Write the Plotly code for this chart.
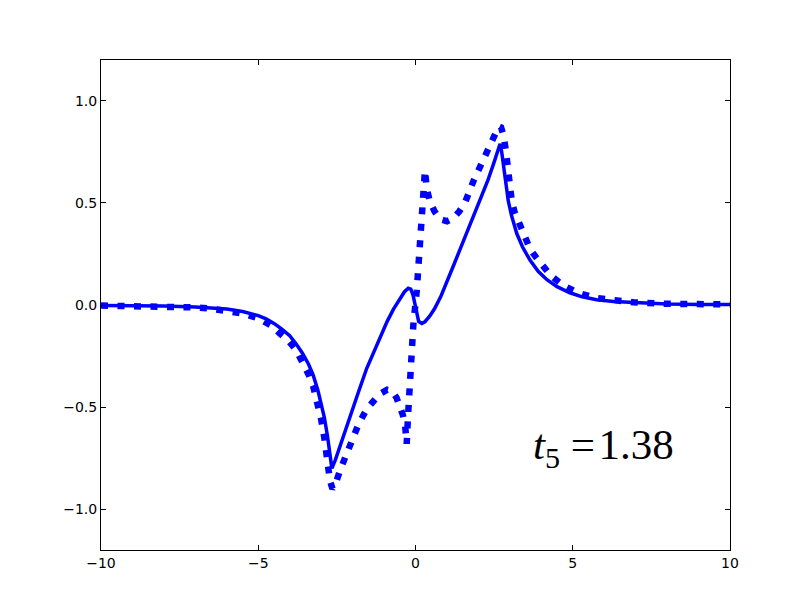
import plotly.graph_objects as go

# solid curve
x_solid = [-10.0, -9.0, -8.0, -7.0, -6.5, -6.0, -5.5, -5.0, -4.75, -4.5, -4.25, -4.0, -3.8,
           -3.6, -3.4, -3.25, -3.1, -3.0, -2.9, -2.8, -2.72, -2.66, -2.55, -2.4, -2.2,
           -2.0, -1.8, -1.55, -1.3, -1.1, -0.9, -0.7, -0.5, -0.35, -0.23, -0.15, -0.08,
           -0.02, 0.04, 0.1, 0.2, 0.3, 0.45, 0.6, 0.8, 1.0, 1.2, 1.41, 1.7, 2.05, 2.3,
           2.5, 2.62, 2.69, 2.74, 2.8, 2.87, 2.95, 3.05, 3.22, 3.4, 3.64, 3.9, 4.17, 4.5,
           4.91, 5.3, 5.76, 6.3, 6.93, 8.0, 9.0, 10.0]
y_solid = [-0.002, -0.003, -0.005, -0.01, -0.014, -0.02, -0.032, -0.052, -0.068, -0.09,
           -0.118, -0.15, -0.19, -0.235, -0.29, -0.345, -0.42, -0.48, -0.55, -0.64, -0.73,
           -0.8, -0.76, -0.69, -0.6, -0.51, -0.42, -0.31, -0.22, -0.15, -0.08, -0.02, 0.03,
           0.065, 0.082, 0.078, 0.05, 0.0, -0.05, -0.08, -0.09, -0.082, -0.055, -0.02,
           0.04, 0.11, 0.19, 0.27, 0.38, 0.51, 0.61, 0.7, 0.765, 0.79, 0.75, 0.68, 0.6,
           0.51, 0.44, 0.35, 0.285, 0.22, 0.165, 0.125, 0.09, 0.06, 0.04, 0.026, 0.017,
           0.011, 0.005, 0.003, 0.002]

# dotted curve
x_dot = [-10.0, -9.0, -8.0, -7.0, -6.5, -6.0, -5.5, -5.0, -4.6, -4.31, -4.04, -3.8, -3.57,
         -3.4, -3.25, -3.1, -3.0, -2.9, -2.8, -2.72, -2.64, -2.55, -2.4, -2.2, -2.03,
         -1.8, -1.55, -1.3, -1.13, -0.9, -0.75, -0.6, -0.49, -0.4, -0.33, -0.28, -0.24,
         -0.17, -0.07, 0.04, 0.14, 0.25, 0.3, 0.36, 0.45, 0.6, 0.78, 1.0, 1.2, 1.4, 1.57,
         1.85, 2.16, 2.42, 2.55, 2.65, 2.72, 2.8, 2.87, 2.95, 3.06, 3.15, 3.27, 3.45,
         3.64, 3.85, 4.01, 4.3, 4.7, 5.2, 5.76, 6.3, 6.93, 8.0, 9.0, 10.0]
y_dot = [-0.003, -0.004, -0.006, -0.012, -0.018, -0.027, -0.042, -0.065, -0.1, -0.14,
         -0.175, -0.22, -0.28, -0.34, -0.4, -0.49, -0.56, -0.65, -0.78, -0.86, -0.9,
         -0.88, -0.81, -0.73, -0.66, -0.58, -0.51, -0.46, -0.435, -0.415, -0.42, -0.455,
         -0.5, -0.54, -0.59, -0.68, -0.55, -0.35, -0.1, 0.07, 0.3, 0.49, 0.66, 0.57,
         0.51, 0.46, 0.42, 0.41, 0.425, 0.46, 0.5, 0.61, 0.72, 0.8, 0.85, 0.875, 0.87,
         0.83, 0.76, 0.65, 0.51, 0.455, 0.41, 0.335, 0.275, 0.23, 0.196, 0.145, 0.095,
         0.058, 0.034, 0.021, 0.013, 0.006, 0.004, 0.003]

x_ticks = [-10, -5, 0, 5, 10]
y_ticks = [-1.0, -0.5, 0.0, 0.5, 1.0]
label = "<i>t</i><sub>5</sub> =\u200a1.38"

fig = go.Figure()
fig.add_trace(go.Scatter(x=x_solid, y=y_solid, mode="lines",
                         line=dict(color="#0000ff", width=3.5)))
fig.add_trace(go.Scatter(x=x_dot, y=y_dot, mode="lines",
                         line=dict(color="#0000ff", width=6.5, dash="7px,9.5px")))

fig.add_annotation(x=3.68, y=-0.70, xref="x", yref="y", text=label, showarrow=False,
                   xanchor="left", yanchor="middle",
                   font=dict(family="Liberation Serif", size=43, color="black"))

axis = dict(showgrid=False, zeroline=False, showline=True, linecolor="black",
            linewidth=1, mirror="ticks", ticks="inside", ticklen=5, tickcolor="black",
            tickfont=dict(family="DejaVu Sans", size=14, color="black"))

fig.update_layout(
    width=804, height=604,
    margin=dict(l=93, r=82, t=52, b=62),
    paper_bgcolor="white", plot_bgcolor="white",
    showlegend=False,
    xaxis=dict(range=[-10, 10], tickvals=x_ticks, **axis),
    yaxis=dict(range=[-1.2, 1.2], tickvals=y_ticks, tickformat=".1f", **axis),
)

fig.write_html("out.html")
